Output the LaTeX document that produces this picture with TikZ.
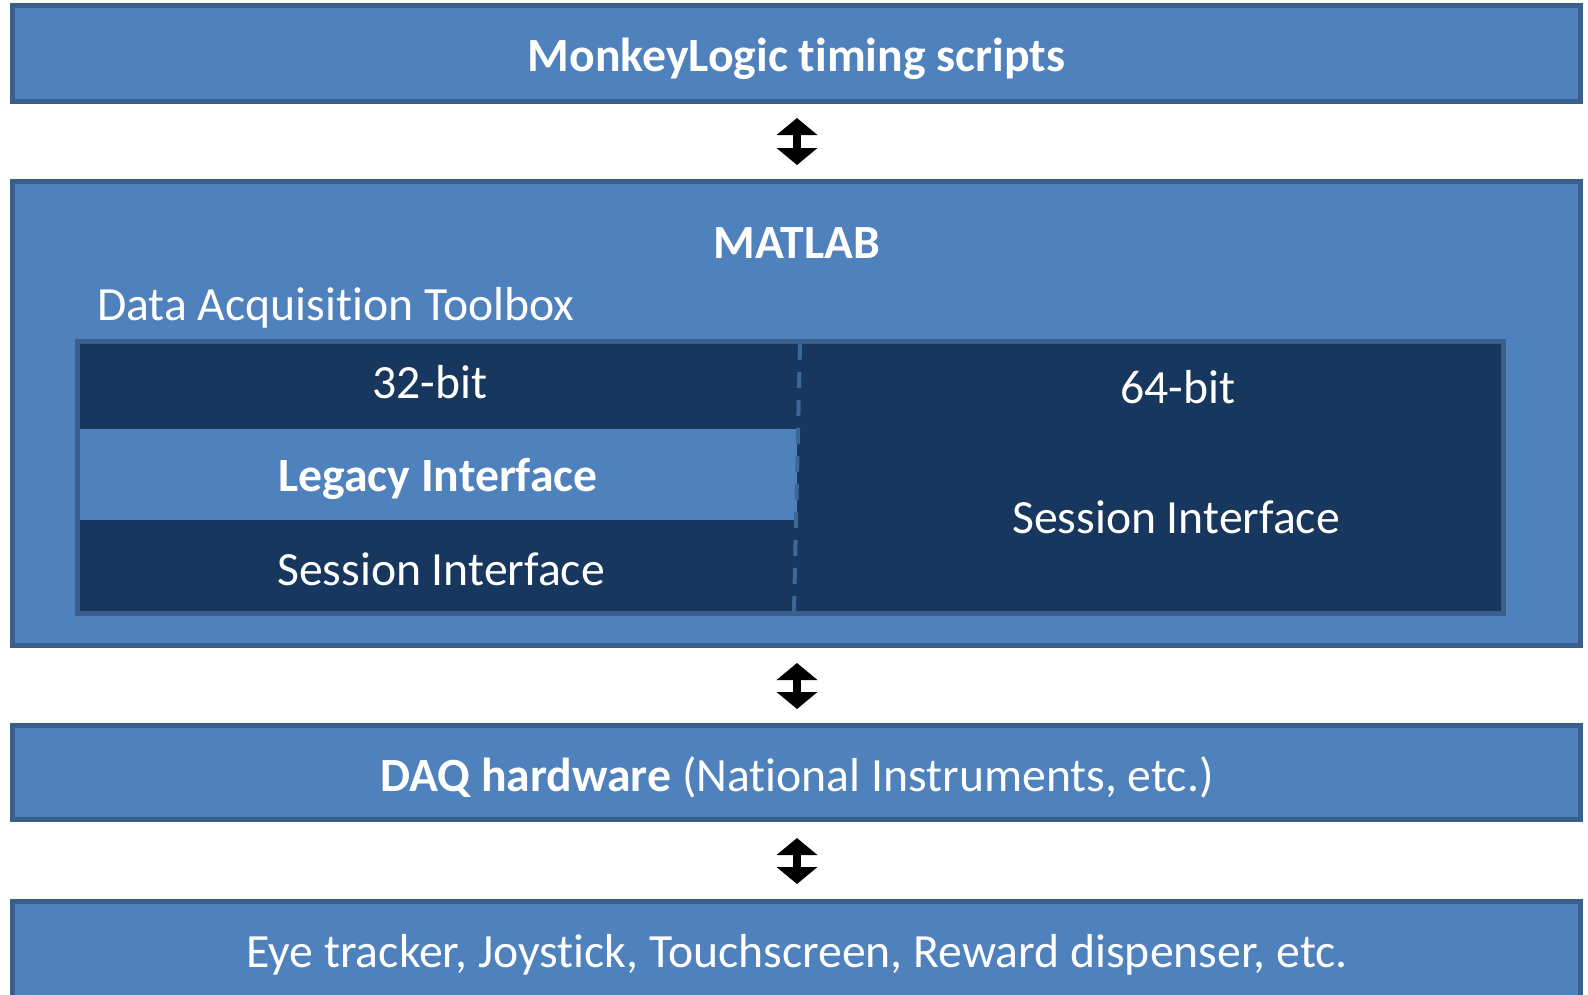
\documentclass[tikz,border=0pt]{standalone}
\usepackage{fontspec}
\setmainfont{Carlito}[Ligatures={NoCommon,NoContextual}]
\usetikzlibrary{arrows.meta}
\definecolor{boxfill}{HTML}{4F81BD}
\definecolor{boxline}{HTML}{3A5F8C}
\definecolor{navy}{HTML}{17375E}
\definecolor{dashc}{HTML}{3C6899}
\tikzset{
  box/.style={rectangle, draw=boxline, fill=boxfill, line width=5pt, inner sep=0pt, outer sep=0pt},
  inbox/.style={rectangle, draw=boxline, fill=navy, line width=5pt, inner sep=0pt, outer sep=0pt},
  band/.style={rectangle, fill=boxfill, inner sep=0pt, outer sep=0pt},
  lbl/.style={text=white, inner sep=0pt, anchor=base, font=\fontsize{47.7}{56}\selectfont},
  blbl/.style={lbl, font=\fontsize{47.7}{56}\selectfont\bfseries},
  dblarrow/.style={line width=8pt, {Triangle[width=40pt,length=17pt]}-{Triangle[width=40pt,length=17pt]}},
}
\begin{document}
\begin{tikzpicture}[x=1pt, y={(0pt,-1pt)}]
\useasboundingbox (0,0) rectangle (1588,994);
% boxes
\node[box, minimum width=1568pt, minimum height=96pt] (top) at (796.5,53.5) {};
\node[box, minimum width=1568pt, minimum height=464pt] (matlab) at (796.5,413.5) {};
\node[inbox, minimum width=1426pt, minimum height=272pt] (inner) at (790.5,477.5) {};
\node[band, minimum width=717pt, minimum height=91pt] (legacy) at (438.5,474.5) {};
\coordinate (dtop) at (800,344);
\coordinate (dbot) at (794,611);
\draw[dashc, line width=4pt, dash pattern=on 16pt off 12pt] (dtop) -- (dbot);
\node[box, minimum width=1568pt, minimum height=94pt] (daq) at (796.5,772.5) {};
\node[box, minimum width=1568pt, minimum height=120pt] (dev) at (796.5,961.5) {};
% texts
\node[blbl] (t1) at (796.5,71) {MonkeyLogic timing scripts};
\node[blbl] (t2) at (797,258) {MATLAB};
\node[lbl, anchor=base west] (t3) at (97,320) {Data Acquisition Toolbox};
\node[lbl] (t4) at (430,398) {32-bit};
\node[lbl] (t5) at (1178,403) {64-bit};
\node[blbl] (t6) at (438,491) {Legacy Interface};
\node[lbl] (t7) at (441,585) {Session Interface};
\node[lbl] (t8) at (1176,533) {Session Interface};
\node[lbl] (t9) at (797,791) {\textbf{DAQ hardware} (National Instruments, etc.)};
\node[lbl] (t10) at (797,967) {Eye tracker, Joystick, Touchscreen, Reward dispenser, etc.};
% arrows
\coordinate (a1t) at (797,118);
\coordinate (a1b) at (797,165);
\coordinate (a2t) at (797,663);
\coordinate (a2b) at (797,709);
\coordinate (a3t) at (797,838);
\coordinate (a3b) at (797,884);
\draw[dblarrow] (a1t) -- (a1b);
\draw[dblarrow] (a2t) -- (a2b);
\draw[dblarrow] (a3t) -- (a3b);
\end{tikzpicture}
\end{document}
